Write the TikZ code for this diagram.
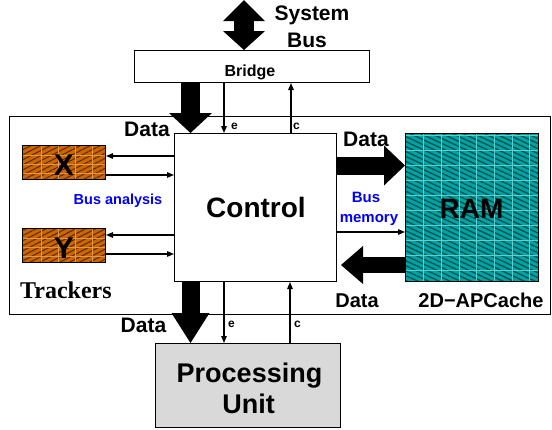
\documentclass[tikz,border=0pt]{standalone}
\usepackage{fontspec}
\setmainfont{Liberation Sans}
\newfontfamily\trackfont{Liberation Serif}
\usetikzlibrary{arrows.meta,patterns.meta}

\definecolor{trackorange}{RGB}{204,102,0}
\definecolor{trackhatch}{RGB}{95,45,0}
\definecolor{trackgrid}{RGB}{225,150,75}
\definecolor{ramteal}{RGB}{0,163,163}
\definecolor{ramhatch}{RGB}{0,80,80}
\definecolor{ramgrid}{RGB}{95,205,205}
\definecolor{pugray}{RGB}{217,217,217}
\definecolor{busblue}{RGB}{0,0,255}

\begin{document}
\begin{tikzpicture}[x=1pt,y=-1pt,
  box/.style={draw, line width=1pt, inner sep=0pt, anchor=north west},
  txt/.style={font=\fontsize{#1}{#1}\selectfont\bfseries, inner sep=0pt, anchor=base},
  thinarrow/.style={line width=1.3pt, -{Triangle[length=7pt,width=5.5pt]}},
  fatarrow/.style n args={3}{line width=#1, -{Triangle[width=#2,length=#3,line width=0pt]}},
  trackpaint/.style={fill=trackorange, path picture={
      \fill[pattern={Lines[angle=27,distance=4.5pt,line width=1.1pt]}, pattern color=trackhatch]
        (path picture bounding box.north west) rectangle (path picture bounding box.south east);
      \foreach \dx in {18.5,35.5,53,70}
        \draw[trackgrid, line width=0.45pt] ([xshift=\dx pt]path picture bounding box.north west)
          -- ([xshift=\dx pt]path picture bounding box.south west);
      \foreach \dy in {9.5,18.5,27.5}
        \draw[trackgrid, line width=0.45pt] ([yshift=-\dy pt]path picture bounding box.north west)
          -- ([yshift=-\dy pt]path picture bounding box.north east);
    }},
  rampaint/.style={fill=ramteal, path picture={
      \fill[pattern={Lines[angle=-25,distance=4.5pt,line width=1.3pt]}, pattern color=ramhatch]
        (path picture bounding box.north west) rectangle (path picture bounding box.south east);
      \foreach \dx in {18,35.7,53.3,71,88.6,106.3,124}
        \draw[ramgrid, line width=0.45pt] ([xshift=\dx pt]path picture bounding box.north west)
          -- ([xshift=\dx pt]path picture bounding box.south west);
      \foreach \dy in {2.5,17.5,...,145}
        \draw[ramgrid, line width=0.45pt] ([yshift=-\dy pt]path picture bounding box.north west)
          -- ([yshift=-\dy pt]path picture bounding box.north east);
    }},
]
\useasboundingbox (0,0) rectangle (552,429);

% board frame and blocks
\node[box, minimum width=541pt, minimum height=197.5pt] (board) at (9,116) {};
\node[box, fill=white, minimum width=235pt, minimum height=32pt] (bridge) at (134,50) {};
\node[box, fill=white, minimum width=162pt, minimum height=148pt] (ctrl) at (174,133) {};
\node[box, trackpaint, minimum width=83pt, minimum height=34pt] (tx) at (22,145) {};
\node[box, trackpaint, minimum width=83pt, minimum height=34pt] (ty) at (22,228) {};
\node[box, rampaint, minimum width=133pt, minimum height=148.5pt] (ram) at (405,132.5) {};
\node[box, fill=pugray, minimum width=185pt, minimum height=84pt] (pu) at (155,343) {};

% guide coordinates for the connector lanes
\coordinate (busTop) at (244,0);
\coordinate (colD) at (190.5,0);
\coordinate (colE) at (224,0);
\coordinate (colC) at (291,0);
\coordinate (colCb) at (290,0);
\coordinate (rowX1) at (0,156);
\coordinate (rowX2) at (0,175);
\coordinate (rowY1) at (0,235);
\coordinate (rowY2) at (0,254);
\coordinate (rowIn) at (0,165.5);
\coordinate (rowMem) at (0,232);
\coordinate (rowOut) at (0,265);

% system bus
\draw[line width=20pt, {Triangle[width=42pt,length=21pt,line width=0pt]}-{Triangle[width=42pt,length=19pt,line width=0pt]}]
  (busTop) -- (bridge.north -| busTop);

% bridge <-> control
\draw[fatarrow={19pt}{43pt}{20pt}] (bridge.south -| colD) -- (ctrl.north -| colD);
\draw[thinarrow] (bridge.south -| colE) -- (ctrl.north -| colE);
\draw[thinarrow] (ctrl.north -| colC) -- (bridge.south -| colC);

% trackers <-> control
\draw[thinarrow] (ctrl.west |- rowX1) -- (tx.east |- rowX1);
\draw[thinarrow] (tx.east |- rowX2) -- (ctrl.west |- rowX2);
\draw[thinarrow] (ctrl.west |- rowY1) -- (ty.east |- rowY1);
\draw[thinarrow] (ty.east |- rowY2) -- (ctrl.west |- rowY2);

% control <-> RAM
\draw[fatarrow={18pt}{40pt}{21pt}] (ctrl.east |- rowIn) -- (ram.west |- rowIn);
\draw[thinarrow] (ctrl.east |- rowMem) -- (ram.west |- rowMem);
\draw[fatarrow={16pt}{38pt}{22pt}, shorten >=4pt] (ram.west |- rowOut) -- (ctrl.east |- rowOut);

% control <-> processing unit
\draw[fatarrow={18pt}{38pt}{30pt}] (ctrl.south -| colD) -- (pu.north -| colD);
\draw[thinarrow] (ctrl.south -| colE) -- (pu.north -| colE);
\draw[thinarrow] (pu.north -| colCb) -- (ctrl.south -| colCb);

% labels
\node[txt=21] (sysA) at (312,20) {System};
\node[txt=21] (sysB) at (307,47) {Bus};
\node[txt=16] (bridgeLbl) at (250,76) {Bridge};
\node[txt=21] (dataTop) at (147,136) {Data};
\node[txt=12, anchor=base west] (eTop) at (231,129) {e};
\node[txt=12, anchor=base west] (cTop) at (293,129) {c};
\node[txt=28] (ctrlLbl) at (256,217) {Control};
\node[txt=30] (xLbl) at (64,175) {X};
\node[txt=30] (yLbl) at (64,258) {Y};
\node[txt=14.5, text=busblue] (busAn) at (118,204) {Bus analysis};
\node[font=\trackfont\bfseries\fontsize{24}{24}\selectfont, inner sep=0pt, anchor=base west] (trk) at (20,298) {Trackers};
\node[txt=21] (dataIn) at (366,146) {Data};
\node[txt=15, text=busblue] (busMemA) at (366,202) {Bus};
\node[txt=15, text=busblue] (busMemB) at (369,222) {memory};
\node[txt=28] (ramLbl) at (471.5,218) {RAM};
\node[txt=20] (dataOut) at (357,307) {Data};
\node[txt=20] (apc) at (481,307) {2D−APCache};
\node[txt=21] (dataBot) at (143.5,332) {Data};
\node[txt=12, anchor=base west] (eBot) at (228,327) {e};
\node[txt=12, anchor=base west] (cBot) at (294,327) {c};
\node[txt=27] (puA) at (249.5,382) {Processing};
\node[txt=27] (puB) at (248.5,413) {Unit};
\end{tikzpicture}
\end{document}
